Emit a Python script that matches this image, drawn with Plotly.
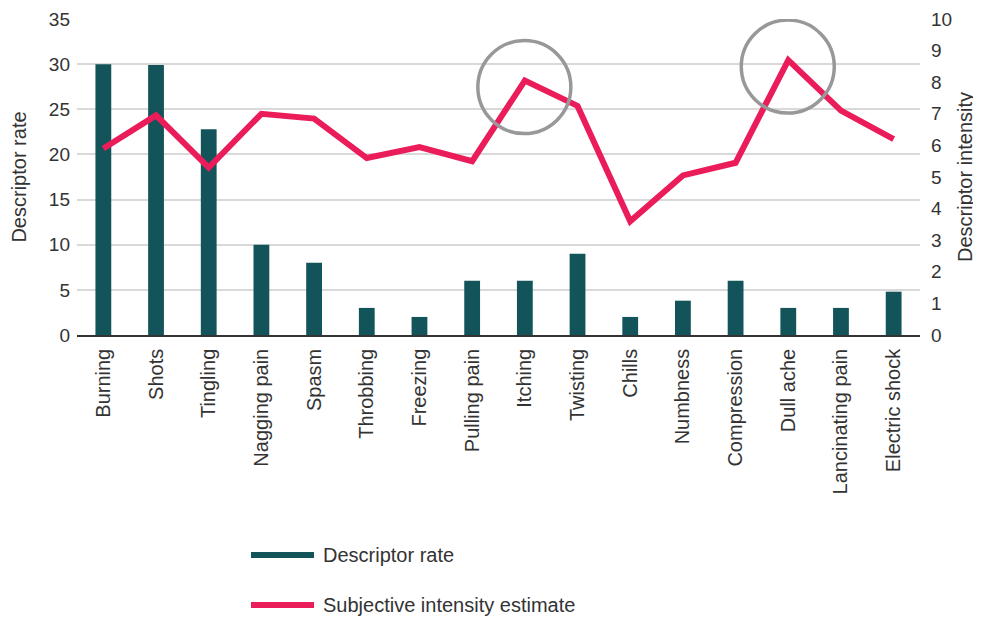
import plotly.graph_objects as go

categories = ["Burning", "Shots", "Tingling", "Nagging pain", "Spasm", "Throbbing",
              "Freezing", "Pulling pain", "Itching", "Twisting", "Chills", "Numbness",
              "Compression", "Dull ache", "Lancinating pain", "Electric shock"]
descriptor_rate = [30, 29.9, 22.8, 10, 8, 3, 2, 6, 6, 9, 2, 3.8, 6, 3, 3, 4.8]
intensity = [5.9, 6.95, 5.3, 7.0, 6.85, 5.6, 5.95, 5.5, 8.05, 7.25, 3.6, 5.05, 5.45, 8.7, 7.1, 6.2]
highlighted = ["Itching", "Dull ache"]
legend_labels = ["Descriptor rate", "Subjective intensity estimate"]

BAR = "#12545a"
LINE = "#eb1c5a"
TXT = "#333333"
FONT = "Liberation Sans, Arial, sans-serif"
FS = 20
FS_TICK = 19

# page body has an 8px default margin; compensate so the plot sits where intended
OFF = 8
W, H = 981 - OFF, 617 - OFF
PL, PR, PT, PB = 77, 920, 19, 335      # plot area in screen pixels
L, T = PL - OFF, PT - OFF
R = W - (PR - OFF)
B = H - (PB - OFF)
PW, PH = PR - PL, PB - PT

def px_x(x):
    return (x - PL) / PW

def px_y(y):
    return (PB - y) / PH

fig = go.Figure()
fig.add_trace(go.Bar(x=categories, y=descriptor_rate, name=legend_labels[0],
                     marker=dict(color=BAR, line=dict(width=0)), width=0.3, yaxis="y",
                     showlegend=False))
fig.add_trace(go.Scatter(x=categories, y=intensity, name=legend_labels[1],
                         mode="lines", line=dict(color=LINE, width=6), yaxis="y2",
                         showlegend=False))

shapes = []
for cat in highlighted:
    i = categories.index(cat)
    shapes.append(dict(type="circle", xref="x", yref="y2",
                       xsizemode="pixel", ysizemode="pixel",
                       xanchor=i, yanchor=intensity[i],
                       x0=-47, x1=46, y0=-53, y1=40,
                       line=dict(color="#98989a", width=3.5), layer="above"))

# manual legend (line samples + labels)
annotations = []
for lbl, col, py in zip(legend_labels, [BAR, LINE], [555, 605]):
    shapes.append(dict(type="line", xref="paper", yref="paper",
                       x0=px_x(251), x1=px_x(314), y0=px_y(py), y1=px_y(py),
                       line=dict(color=col, width=6)))
    annotations.append(dict(text=lbl, xref="paper", yref="paper",
                            x=px_x(321), y=px_y(py), xanchor="left", yanchor="middle",
                            showarrow=False, font=dict(size=FS, color=TXT)))

fig.update_layout(
    width=W, height=H,
    margin=dict(l=L, r=R, t=T, b=B, autoexpand=False),
    paper_bgcolor="white", plot_bgcolor="white",
    font=dict(family=FONT, size=FS, color=TXT),
    showlegend=False,
    xaxis=dict(type="category", tickangle=-90, showgrid=False, showline=True,
               linecolor="#333333", linewidth=1.5, ticks="", tickfont=dict(size=FS, color=TXT),
               ticklabelstandoff=4, range=[-0.5, 15.5], automargin=False),
    yaxis=dict(range=[0, 35], dtick=5, showgrid=True, gridcolor="#d9d9d9", gridwidth=1.5,
               zeroline=False, showline=False, ticks="", tickfont=dict(size=FS_TICK, color=TXT),
               ticklabelstandoff=6, automargin=False,
               title=dict(text="Descriptor rate", font=dict(size=FS, color=TXT), standoff=18)),
    yaxis2=dict(range=[0, 10], dtick=1, overlaying="y", side="right", showgrid=False,
                zeroline=False, showline=False, ticks="", tickfont=dict(size=FS_TICK, color=TXT),
                ticklabelstandoff=10, automargin=False,
                title=dict(text="Descriptor intensity", font=dict(size=FS, color=TXT), standoff=6)),
    shapes=shapes,
    annotations=annotations,
)

fig.write_html("out.html")
